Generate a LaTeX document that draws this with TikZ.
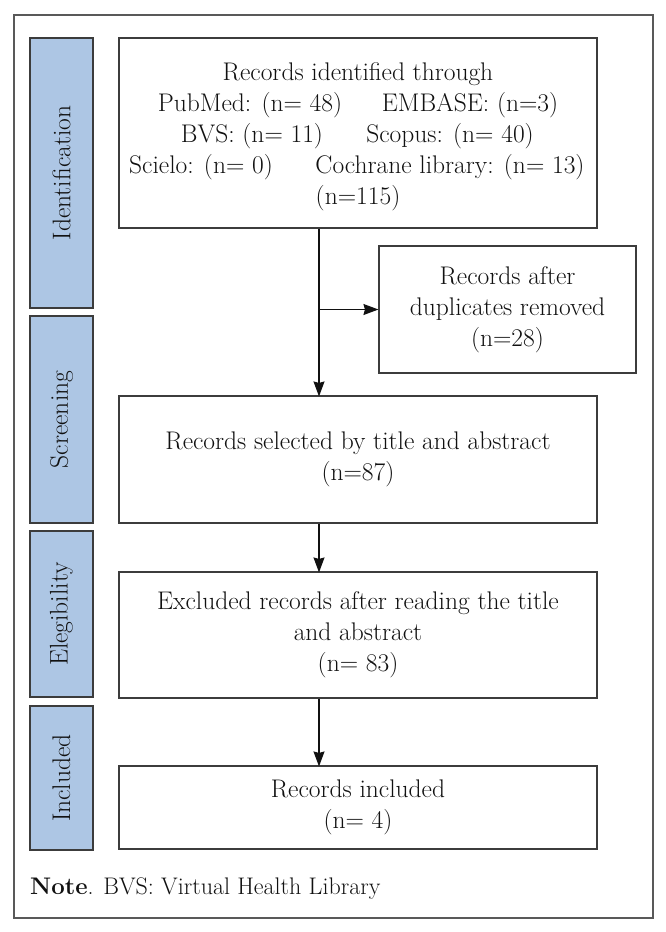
\documentclass[tikz,border=0pt]{standalone}
\usetikzlibrary{arrows.meta}
\definecolor{barblue}{HTML}{ADC6E4}
\definecolor{linegray}{HTML}{3C3C3C}
\definecolor{inkgray}{HTML}{111111}
\begin{document}
\begin{tikzpicture}[x=1pt,y=-1pt,
  box/.style={draw=linegray, line width=1.1pt, inner sep=0pt, align=center,
    font=\fontsize{25.5}{31}\selectfont, text=inkgray},
  bar/.style={draw=linegray, fill=barblue, line width=1.1pt, inner sep=0pt},
  txt/.style={font=\fontsize{25.5}{31}\selectfont, text=inkgray, inner sep=0pt},
  arr/.style={-{Stealth[length=15pt,width=11pt,inset=1.5pt]}, line width=1.1pt, draw=inkgray}]
\useasboundingbox (0,0) rectangle (666,932);
\node[draw=black!65, line width=1.4pt, minimum width=639pt, minimum height=903pt] (frame) at (333.5,466.5) {};
% side bars
\node[bar, minimum width=63pt, minimum height=270pt] (idbar) at (61.5,173) {};
\node[bar, minimum width=63pt, minimum height=207pt] (scbar) at (61.5,419.5) {};
\node[bar, minimum width=63pt, minimum height=166pt] (elbar) at (61.5,614) {};
\node[bar, minimum width=63pt, minimum height=144pt] (inbar) at (61.5,778) {};
\node[txt, rotate=90] (idlab) at (idbar) {Identification};
\node[txt, rotate=90] (sclab) at (scbar) {Screening};
\node[txt, rotate=90] (ellab) at (elbar) {Elegibility};
\node[txt, rotate=90] (inlab) at (inbar) {Included};
% boxes
\node[box, minimum width=478pt, minimum height=190pt] (b1) at (358,133) {};
\node[txt, anchor=base] (t1) at (358,80) {Records identified through};
\node[txt, anchor=base] (t2a) at (250,111) {PubMed: (n= 48)};
\node[txt, anchor=base] (t2b) at (470,111) {EMBASE: (n=3)};
\node[txt, anchor=base] (t3a) at (252,142) {BVS: (n= 11)};
\node[txt, anchor=base] (t3b) at (450,142) {Scopus: (n= 40)};
\node[txt, anchor=base] (t4a) at (201,173) {Scielo: (n= 0)};
\node[txt, anchor=base] (t4b) at (450,173) {Cochrane library: (n= 13)};
\node[txt, anchor=base] (t5) at (358,204) {(n=115)};
\node[box, minimum width=257pt, minimum height=127pt] (dup) at (507.5,309.5) {Records after\\duplicates removed\\(n=28)};
\node[box, minimum width=478pt, minimum height=127pt] (b2) at (358,459.5) {Records selected by title and abstract\\(n=87)};
\node[box, minimum width=478pt, minimum height=126pt] (b3) at (358,635) {Excluded records after reading the title\\and abstract\\(n= 83)};
\node[box, minimum width=478pt, minimum height=83pt] (b4) at (358,807.5) {Records included\\(n= 4)};
% connectors
\coordinate (trunk) at (319,0);
\draw[arr] (b1.south -| trunk) -- ([yshift=-1pt]b2.north -| trunk);
\draw[arr] (dup.west -| trunk) -- (dup.west);
\draw[arr] (b2.south -| trunk) -- ([yshift=-1pt]b3.north -| trunk);
\draw[arr] (b3.south -| trunk) -- ([yshift=-1pt]b4.north -| trunk);
% note
\node[txt, font=\fontsize{24}{30}\selectfont, anchor=base west] (note) at (30,894) {\textbf{Note}. BVS: Virtual Health Library};
\end{tikzpicture}
\end{document}
